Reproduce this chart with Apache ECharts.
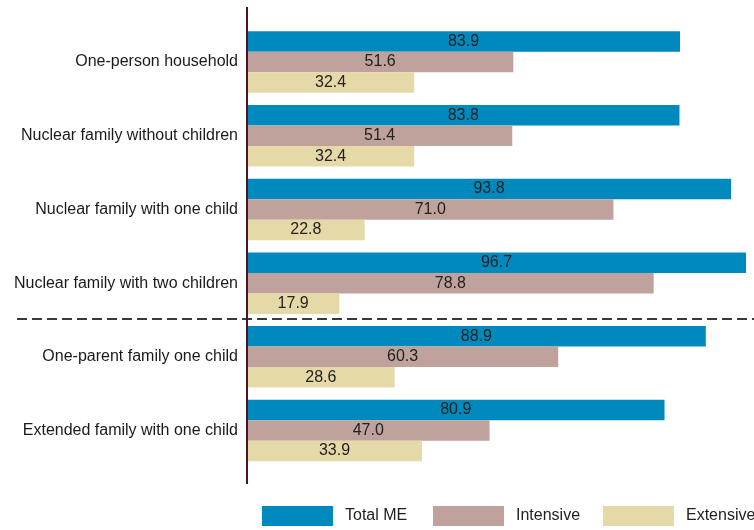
<!DOCTYPE html>
<html>
<head>
<meta charset="utf-8">
<script src="https://cdn.jsdelivr.net/npm/echarts@6/dist/echarts.min.js"></script>
<style>
  html, body { margin: 0; padding: 0; background: #fff; }
  #chart { width: 754px; height: 530px; }
</style>
</head>
<body>
<div id="chart"></div>
<script>
// Household types, top to bottom
const categories = [
  'One-person household',
  'Nuclear family without children',
  'Nuclear family with one child',
  'Nuclear family with two children',
  'One-parent family one child',
  'Extended family with one child'
];
const seriesNames = ['Total ME', 'Intensive', 'Extensive'];
const totalME   = [83.9, 83.8, 93.8, 96.7, 88.9, 80.9];
const intensive = [51.6, 51.4, 71.0, 78.8, 60.3, 47.0];
const extensive = [32.4, 32.4, 22.8, 17.9, 28.6, 33.9];
const colors = ['#0089bd', '#bfa29c', '#e6d9a8'];

const FONT = '"Liberation Sans", Arial, sans-serif';
const chart = echarts.init(document.getElementById('chart'), null, { renderer: 'canvas' });

function barSeries(name, data, color) {
  return {
    name: name,
    type: 'bar',
    data: data,
    barWidth: 20.5,
    barGap: '0%',
    itemStyle: { color: color },
    label: {
      show: true,
      position: 'inside',
      formatter: p => p.value.toFixed(1),
      color: '#222',
      fontSize: 16,
      fontFamily: FONT
    },
    emphasis: { disabled: true }
  };
}

function legendAt(left, name) {
  return {
    left: left,
    top: 506,
    data: [name],
    icon: 'rect',
    itemWidth: 71,
    itemHeight: 20,
    padding: 0,
    selectedMode: false,
    textStyle: { color: '#222', fontSize: 16, fontFamily: FONT, padding: [0, 0, 0, 7] }
  };
}

chart.setOption({
  animation: false,
  backgroundColor: '#fff',
  grid: { left: 247, top: 25.2, right: 0, height: 442.2, containLabel: false },
  xAxis: {
    type: 'value',
    min: 0,
    max: 98.24,
    show: false
  },
  yAxis: {
    type: 'category',
    data: categories,
    inverse: true,
    axisLine: { show: false },
    axisTick: { show: false },
    axisLabel: {
      color: '#1a1a1a',
      fontSize: 16,
      fontFamily: FONT,
      margin: 9
    }
  },
  legend: [
    legendAt(262, seriesNames[0]),
    legendAt(433, seriesNames[1]),
    legendAt(603, seriesNames[2])
  ],
  series: [
    barSeries(seriesNames[0], totalME, colors[0]),
    barSeries(seriesNames[1], intensive, colors[1]),
    barSeries(seriesNames[2], extensive, colors[2])
  ]
});

// Separator between two-parent and other household types, plus the category axis line
const yA = chart.convertToPixel({ yAxisIndex: 0 }, categories[3]);
const yB = chart.convertToPixel({ yAxisIndex: 0 }, categories[4]);
const sepY = Math.round((yA + yB) / 2) - 1;
const axisX = chart.convertToPixel({ xAxisIndex: 0 }, 0);

chart.setOption({
  graphic: [
    {
      type: 'line',
      silent: true,
      z: 10,
      shape: { x1: 17, y1: sepY, x2: 754, y2: sepY },
      style: { stroke: '#3a3a3a', lineWidth: 2, lineDash: [10, 5] }
    },
    {
      type: 'line',
      silent: true,
      z: 11,
      shape: { x1: axisX, y1: 7, x2: axisX, y2: 484 },
      style: { stroke: '#4a1422', lineWidth: 2 }
    }
  ]
});
</script>
</body>
</html>
